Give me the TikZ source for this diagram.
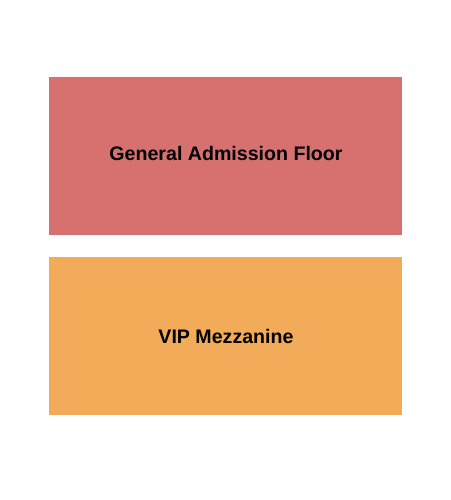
\documentclass[tikz,border=0pt]{standalone}
\usepackage{fontspec}
\setmainfont{Liberation Sans}
\definecolor{floorred}{HTML}{D77170}
\definecolor{viporange}{HTML}{F2AC59}
\begin{document}
\begin{tikzpicture}[x=1pt,y=-1pt,
  lab/.style={font=\bfseries\fontsize{19.6}{22}\selectfont, text=black}]
\useasboundingbox (0,0) rectangle (450,500);
\fill[white] (0,0) rectangle (450,500);
\fill[floorred] (48.5,77.3) rectangle (402,235.3);
\fill[viporange] (48.5,256.5) rectangle (402,415);
\node[lab] (ga) at (226,153) {General Admission Floor};
\node[lab] (vip) at (226,336) {VIP Mezzanine};
\end{tikzpicture}
\end{document}
